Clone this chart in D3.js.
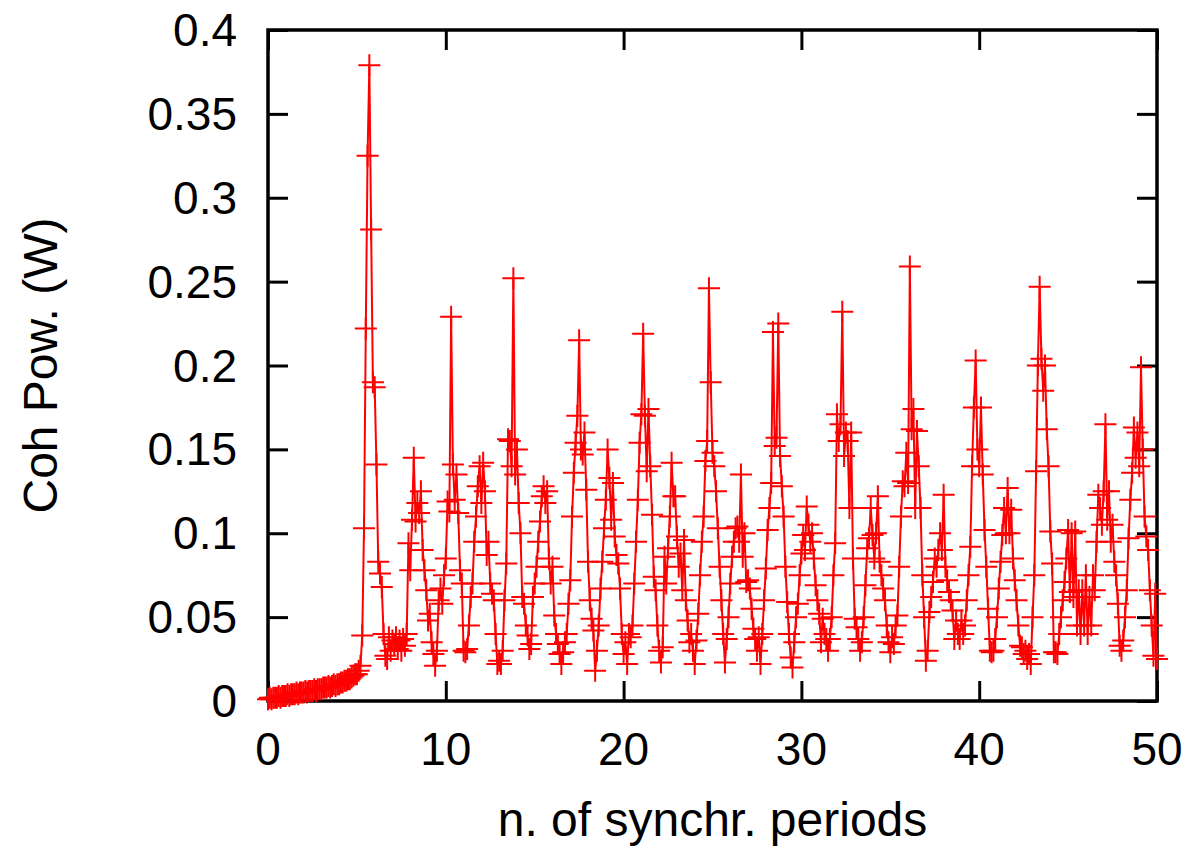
<!DOCTYPE html>
<html>
<head>
<meta charset="utf-8">
<script src="https://cdn.jsdelivr.net/npm/d3@7"></script>
<style>
  html, body { margin: 0; padding: 0; background: #fff; }
  text { font-family: "Liberation Sans", Arial, Helvetica, sans-serif; fill: #000; }
</style>
</head>
<body>
<svg id="chart" width="1191" height="848"></svg>
<script>
// sample spacing along x (n. of synchr. periods)
const step = 0.1;

// Coh. power (W), one array per block of 10 periods, starting at x = 0, 10, 20, 30, 40
const power0to10 = [
    0.001, 0.002, 0.001, 0.002, 0.002, 0.002, 0.003, 0.002, 0.003, 0.003,
    0.003, 0.004, 0.003, 0.004, 0.004, 0.004, 0.005, 0.004, 0.005, 0.005,
    0.005, 0.006, 0.005, 0.006, 0.006, 0.006, 0.007, 0.006, 0.007, 0.007,
    0.007, 0.008, 0.008, 0.008, 0.009, 0.008, 0.009, 0.010, 0.009, 0.010,
    0.010, 0.011, 0.011, 0.012, 0.012, 0.013, 0.013, 0.014, 0.015, 0.016,
    0.016, 0.018, 0.021, 0.039, 0.103, 0.222, 0.325, 0.379, 0.281, 0.190,
    0.187, 0.141, 0.083, 0.076, 0.068, 0.040, 0.027, 0.025, 0.038, 0.030,
    0.036, 0.034, 0.038, 0.031, 0.036, 0.030, 0.037, 0.033, 0.040, 0.094,
    0.078, 0.108, 0.145, 0.107, 0.118, 0.112, 0.125, 0.090, 0.078, 0.066,
    0.048, 0.052, 0.035, 0.028, 0.021, 0.030, 0.060, 0.067, 0.058, 0.075
];
const power10to20 = [
    0.085, 0.119, 0.113, 0.229, 0.141, 0.120, 0.135, 0.112, 0.078, 0.070,
    0.030, 0.029, 0.031, 0.045, 0.062, 0.070, 0.095, 0.110, 0.128, 0.140,
    0.118, 0.142, 0.125, 0.087, 0.095, 0.070, 0.064, 0.060, 0.040, 0.022,
    0.024, 0.022, 0.030, 0.060, 0.082, 0.156, 0.155, 0.140, 0.252, 0.135,
    0.150, 0.118, 0.100, 0.062, 0.058, 0.045, 0.039, 0.031, 0.034, 0.062,
    0.070, 0.080, 0.095, 0.107, 0.122, 0.128, 0.118, 0.125, 0.085, 0.070,
    0.080, 0.051, 0.040, 0.034, 0.028, 0.022, 0.029, 0.035, 0.040, 0.058,
    0.072, 0.110, 0.136, 0.154, 0.170, 0.215, 0.150, 0.147, 0.160, 0.126,
    0.083, 0.060, 0.049, 0.042, 0.018, 0.030, 0.045, 0.067, 0.083, 0.103,
    0.120, 0.150, 0.133, 0.108, 0.130, 0.098, 0.087, 0.082, 0.067, 0.040
];
const power20to30 = [
    0.028, 0.035, 0.022, 0.040, 0.038, 0.045, 0.070, 0.095, 0.120, 0.154,
    0.171, 0.219, 0.170, 0.137, 0.174, 0.140, 0.111, 0.074, 0.066, 0.045,
    0.030, 0.023, 0.032, 0.086, 0.070, 0.091, 0.110, 0.142, 0.122, 0.122,
    0.098, 0.080, 0.088, 0.066, 0.096, 0.060, 0.048, 0.035, 0.040, 0.030,
    0.022, 0.036, 0.052, 0.075, 0.095, 0.110, 0.143, 0.155, 0.246, 0.190,
    0.148, 0.140, 0.125, 0.103, 0.080, 0.060, 0.040, 0.023, 0.037, 0.050,
    0.070, 0.086, 0.095, 0.103, 0.104, 0.095, 0.135, 0.086, 0.100, 0.071,
    0.072, 0.067, 0.055, 0.043, 0.037, 0.030, 0.038, 0.022, 0.040, 0.060,
    0.079, 0.102, 0.115, 0.130, 0.220, 0.152, 0.157, 0.225, 0.146, 0.128,
    0.110, 0.080, 0.059, 0.040, 0.026, 0.020, 0.035, 0.050, 0.058, 0.075
];
const power30to40 = [
    0.088, 0.099, 0.090, 0.116, 0.105, 0.095, 0.100, 0.085, 0.069, 0.060,
    0.052, 0.035, 0.049, 0.040, 0.037, 0.030, 0.037, 0.050, 0.075, 0.094,
    0.171, 0.155, 0.165, 0.232, 0.146, 0.160, 0.155, 0.115, 0.160, 0.085,
    0.049, 0.044, 0.037, 0.030, 0.035, 0.050, 0.069, 0.091, 0.097, 0.115,
    0.099, 0.085, 0.100, 0.122, 0.083, 0.075, 0.067, 0.060, 0.045, 0.035,
    0.029, 0.038, 0.034, 0.045, 0.051, 0.080, 0.110, 0.131, 0.128, 0.148,
    0.130, 0.259, 0.162, 0.174, 0.115, 0.161, 0.140, 0.115, 0.075, 0.050,
    0.024, 0.030, 0.053, 0.062, 0.071, 0.085, 0.080, 0.090, 0.100, 0.090,
    0.123, 0.080, 0.072, 0.065, 0.060, 0.054, 0.037, 0.048, 0.040, 0.037,
    0.048, 0.040, 0.045, 0.060, 0.075, 0.092, 0.140, 0.175, 0.203, 0.150
];
const power40to50 = [
    0.140, 0.175, 0.135, 0.102, 0.080, 0.055, 0.030, 0.029, 0.030, 0.037,
    0.050, 0.067, 0.083, 0.099, 0.115, 0.100, 0.127, 0.100, 0.114, 0.085,
    0.072, 0.060, 0.045, 0.033, 0.032, 0.028, 0.030, 0.025, 0.028, 0.022,
    0.050, 0.075, 0.137, 0.200, 0.247, 0.204, 0.185, 0.200, 0.162, 0.140,
    0.101, 0.082, 0.029, 0.029, 0.028, 0.040, 0.050, 0.060, 0.071, 0.085,
    0.102, 0.065, 0.100, 0.062, 0.101, 0.045, 0.066, 0.040, 0.066, 0.045,
    0.075, 0.040, 0.062, 0.045, 0.075, 0.066, 0.095, 0.123, 0.115, 0.105,
    0.125, 0.165, 0.108, 0.125, 0.095, 0.105, 0.083, 0.075, 0.058, 0.033,
    0.030, 0.036, 0.050, 0.066, 0.097, 0.120, 0.136, 0.163, 0.145, 0.160,
    0.140, 0.199, 0.150, 0.110, 0.098, 0.090, 0.066, 0.045, 0.027, 0.064,
    0.025
];

const xTicks = [0, 10, 20, 30, 40, 50];
const yTicks = [0, 0.05, 0.1, 0.15, 0.2, 0.25, 0.3, 0.35, 0.4];
const xLabel = "n. of synchr. periods";
const yLabel = "Coh Pow. (W)";

const svg = d3.select("#chart");
const margin = { left: 268, right: 34, top: 30, bottom: 147 };
const width = +svg.attr("width"),
    height = +svg.attr("height");

const x = d3.scaleLinear().domain([0, 50]).range([margin.left, width - margin.right]);
const y = d3.scaleLinear().domain([0, 0.4]).range([height - margin.bottom, margin.top]);

const powerValues = [].concat(power0to10, power10to20, power20to30, power30to40, power40to50);
const points = powerValues.map((v, i) => ({ n: +(i * step).toFixed(1), p: v }));

svg.append("rect")
    .attr("width", width)
    .attr("height", height)
    .attr("fill", "#fff");

const tickLen = 20;

// mirrored ticks, pointing inward on all four sides
const bottomAxis = d3.axisBottom(x).tickValues(xTicks).tickSize(-tickLen).tickFormat("");
const topAxis = d3.axisTop(x).tickValues(xTicks).tickSize(-tickLen).tickFormat("");
const leftAxis = d3.axisLeft(y).tickValues(yTicks).tickSize(-tickLen).tickFormat("");
const rightAxis = d3.axisRight(y).tickValues(yTicks).tickSize(-tickLen).tickFormat("");

function styleAxis(g) {
    g.select(".domain").remove();
    g.selectAll(".tick line").attr("stroke", "#000").attr("stroke-width", 3);
}

svg.append("g").attr("transform", `translate(0,${y(0)})`).call(bottomAxis).call(styleAxis);
svg.append("g").attr("transform", `translate(0,${y(0.4)})`).call(topAxis).call(styleAxis);
svg.append("g").attr("transform", `translate(${x(0)},0)`).call(leftAxis).call(styleAxis);
svg.append("g").attr("transform", `translate(${x(50)},0)`).call(rightAxis).call(styleAxis);

svg.append("rect")
    .attr("x", x(0))
    .attr("y", y(0.4))
    .attr("width", x(50) - x(0))
    .attr("height", y(0) - y(0.4))
    .attr("fill", "none")
    .attr("stroke", "#000")
    .attr("stroke-width", 3.5);

// tick labels
svg.append("g")
    .selectAll("text")
    .data(yTicks)
    .join("text")
    .attr("x", x(0) - 31)
    .attr("y", d => y(d))
    .attr("dy", "0.35em")
    .attr("text-anchor", "end")
    .attr("font-size", 46)
    .text(d => d3.format("~g")(d));

svg.append("g")
    .selectAll("text")
    .data(xTicks)
    .join("text")
    .attr("x", d => x(d))
    .attr("y", y(0) + 64)
    .attr("text-anchor", "middle")
    .attr("font-size", 46)
    .text(d => d);

// axis titles
svg.append("text")
    .attr("x", (x(0) + x(50)) / 2)
    .attr("y", 836)
    .attr("text-anchor", "middle")
    .attr("font-size", 48)
    .text(xLabel);

svg.append("text")
    .attr("transform", `translate(57,${(y(0) + y(0.4)) / 2}) rotate(-90)`)
    .attr("text-anchor", "middle")
    .attr("font-size", 48)
    .text(yLabel);

// data: line with "+" markers
const line = d3.line()
    .x(d => x(d.n))
    .y(d => y(d.p));

svg.append("path")
    .datum(points)
    .attr("d", line)
    .attr("fill", "none")
    .attr("stroke", "#ff0000")
    .attr("stroke-width", 2)
    .attr("stroke-linejoin", "round");

const arm = 11;
svg.append("g")
    .selectAll("path")
    .data(points)
    .join("path")
    .attr("d", d => {
        const cx = x(d.n), cy = y(d.p);
        return `M${cx - arm},${cy}H${cx + arm}M${cx},${cy - arm}V${cy + arm}`;
    })
    .attr("fill", "none")
    .attr("stroke", "#ff0000")
    .attr("stroke-width", 2);
</script>
</body>
</html>
